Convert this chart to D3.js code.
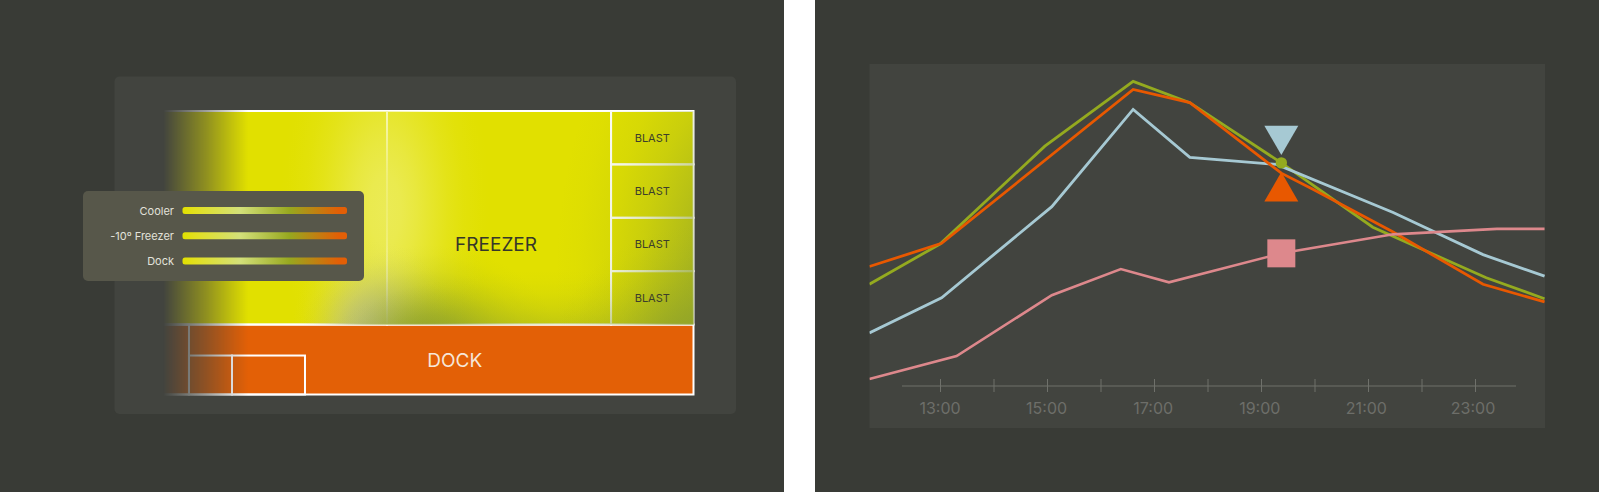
<!DOCTYPE html>
<html><head><meta charset="utf-8">
<script src="https://cdn.jsdelivr.net/npm/d3@7"></script>
<style>
html,body{margin:0;padding:0;background:#fff;overflow:hidden}
svg{display:block;font-family:Inter,"Noto Sans",sans-serif}
</style></head><body>
<svg id="c" width="1599" height="493"></svg>
<script>
// ---- data ----
const legendNames = ["Cooler", "-10º Freezer", "Dock"];
const legendStops = [0, 0.08, 0.35, 0.65, 0.95, 1];
const legendColors = ["#e1e000", "#e2e020", "#d3e07a", "#97a81f", "#e35f06", "#e35f06"];
const roomTree = {name:"site", children:[
  {name:"upper", children:[
    {name:"COOLER", value:48.15},
    {name:"FREEZER", value:47.94, label:"FREEZER"},
    {name:"blast", children:[
      {name:"b1", value:4.41, label:"BLAST"},
      {name:"b2", value:4.41, label:"BLAST"},
      {name:"b3", value:4.41, label:"BLAST"},
      {name:"b4", value:4.41, label:"BLAST"}]}]},
  {name:"DOCK", children:[
    {name:"d1", value:1.89},
    {name:"rest", children:[
      {name:"gap", value:15.66, hidden:true},
      {name:"row", children:[
        {name:"d2", value:1.68},
        {name:"d3", value:2.85},
        {name:"d4", value:15.17, hidden:true}]}]}]}
]};
const hourTicks = [13,14,15,16,17,18,19,20,21,22,23];
const hourLabels = [13,15,17,19,21,23];
const greenHours = [11.68,13,14.96,16.61,17.67,19.38,21.09,23.21,24.3];
const greenVals  = [31.6,44.1,74.5,94.6,88,69.3,49.3,33.6,27.1];
const orangeHours = [11.68,13.03,16.61,17.67,19.38,19.97,21.47,23.15,24.3];
const orangeVals  = [37.1,44.3,92.1,88,66.1,61.1,47.8,31.6,26.1];
const blueHours = [11.68,13.03,15.09,16.61,17.67,19.29,21.47,23.15,24.3];
const blueVals  = [16.5,27.4,55.7,85.9,71,68.8,53.9,40.8,34.1];
const pinkHours = [11.68,13.31,15.09,16.38,17.28,19.38,21.47,23.41,24.3];
const pinkVals  = [2.2,9.3,28.2,36.3,32.2,41.2,47.1,48.8,48.8];
const cursorHour = 19.38;

// ---- page ----
const svg = d3.select("#c");
const defs = svg.append("defs");
svg.append("rect").attr("width",784).attr("height",492).attr("fill","#393b36");
svg.append("rect").attr("x",815).attr("width",784).attr("height",492).attr("fill","#393b36");
svg.append("rect").attr("x",114.5).attr("y",76.5).attr("width",621.5).attr("height",337.5).attr("rx",5).attr("fill","#42443f");
svg.append("rect").attr("x",869.5).attr("y",64).attr("width",675.5).attr("height",364).attr("fill","#42443f");

// ---- treemap ----
const tmX0=162, tmX1=693.5, tmY0=111, tmY1=394.5;
const root = d3.hierarchy(roomTree).sum(d=>d.value||0);
const tile = (node,a,b,c,e)=> (node.depth%2 ? d3.treemapDice : d3.treemapSlice)(node,a,b,c,e);
d3.treemap().tile(tile).size([tmX1-tmX0,tmY1-tmY0]).round(false)(root);
const upper = root.children[0], dock = root.children[1];

const fade = defs.append("linearGradient").attr("id","fade").attr("gradientUnits","userSpaceOnUse")
  .attr("x1",163).attr("x2",248).attr("y1",0).attr("y2",0);
[[0,0],[.5,.48],[.85,.85],[1,1]].forEach(s=>fade.append("stop").attr("offset",s[0]).attr("stop-color","#fff").attr("stop-opacity",s[1]));
const mask = defs.append("mask").attr("id","fadeMask").attr("maskUnits","userSpaceOnUse")
  .attr("x",0).attr("y",0).attr("width",784).attr("height",493);
mask.append("rect").attr("x",163).attr("width",700).attr("height",493).attr("fill","url(#fade)");

const softStops = [[0,1],[.15,.93],[.3,.74],[.45,.5],[.6,.28],[.75,.12],[.9,.03],[1,0]];
function glow(id, col, peak){
  const g = defs.append("radialGradient").attr("id",id);
  softStops.forEach(s=>g.append("stop").attr("offset",s[0]).attr("stop-color",col).attr("stop-opacity",s[1]*peak));
}
glow("gOlive","#8fa22a",1);
glow("gOliveSoft","#8fa22a",.7);
glow("gPale","#ecec5e",.9);
glow("gGrey","#c8c8a0",.9);
defs.append("clipPath").attr("id","upperClip").append("rect")
  .attr("x",tmX0).attr("y",tmY0).attr("width",tmX1-tmX0).attr("height",upper.y1-upper.y0);

const tm = svg.append("g").attr("mask","url(#fadeMask)");
const heat = tm.append("g").attr("transform",`translate(${tmX0},${tmY0})`);
heat.append("rect").attr("x",upper.x0).attr("y",upper.y0).attr("width",upper.x1-upper.x0).attr("height",upper.y1-upper.y0).attr("fill","#e1e000");
const spots = tm.append("g").attr("clip-path","url(#upperClip)");
function spot(cx,cy,rx,ry,fill){spots.append("ellipse").attr("cx",cx).attr("cy",cy).attr("rx",rx).attr("ry",ry).attr("fill",`url(#${fill})`);}
spot(385,210,105,230,"gPale");
spot(372,330,80,90,"gGrey");
spot(428,345,130,100,"gOlive");
spot(545,365,240,95,"gOliveSoft");
spot(770,280,215,350,"gOlive");
spot(705,350,150,125,"gOlive");
heat.append("rect").attr("x",dock.x0).attr("y",dock.y0).attr("width",dock.x1-dock.x0).attr("height",dock.y1-dock.y0).attr("fill","#e36006");

const leaves = root.leaves().filter(d=>!d.data.hidden);
heat.selectAll("rect.cell").data(leaves).join("rect").attr("class","cell")
  .attr("x",d=>d.x0).attr("y",d=>d.y0).attr("width",d=>d.x1-d.x0).attr("height",d=>d.y1-d.y0)
  .attr("fill","none").attr("stroke","#fff").attr("stroke-width",2);
heat.append("rect").attr("x",dock.x0).attr("y",dock.y0).attr("width",dock.x1-dock.x0).attr("height",dock.y1-dock.y0)
  .attr("fill","none").attr("stroke","#fff").attr("stroke-width",2);

const labels = svg.append("g").attr("transform",`translate(${tmX0},${tmY0})`).attr("text-anchor","middle").attr("dominant-baseline","central");
labels.selectAll("text.blast").data(leaves.filter(d=>d.data.label==="BLAST")).join("text").attr("class","blast")
  .attr("x",d=>(d.x0+d.x1)/2).attr("y",d=>(d.y0+d.y1)/2).attr("font-size",11).attr("fill","#3c3e2c").text(d=>d.data.label);
const fz = leaves.find(d=>d.data.label==="FREEZER");
labels.append("text").attr("x",(fz.x0+fz.x1)/2-3).attr("y",(fz.y0+fz.y1)/2+27).attr("font-size",19).attr("fill","#35372a").text("FREEZER");
labels.append("text").attr("x",(dock.x0+dock.x1)/2+27).attr("y",(dock.y0+dock.y1)/2+1).attr("font-size",19).attr("fill","#f6e6d8").text("DOCK");

// ---- legend ----
const lg = svg.append("g");
lg.append("rect").attr("x",83).attr("y",191).attr("width",281).attr("height",90).attr("rx",5).attr("fill","#57574a");
const lgY = d3.scalePoint().domain(legendNames).range([210.5,261]);
const lgGrad = defs.append("linearGradient").attr("id","lgGrad");
legendStops.forEach((s,i)=>lgGrad.append("stop").attr("offset",s).attr("stop-color",legendColors[i]));
lg.selectAll("rect.bar").data(legendNames).join("rect").attr("class","bar")
  .attr("x",182.5).attr("y",d=>lgY(d)-3.5).attr("width",164.5).attr("height",7).attr("rx",2.5).attr("fill","url(#lgGrad)");
lg.selectAll("text").data(legendNames).join("text")
  .attr("x",174).attr("y",d=>lgY(d)).attr("text-anchor","end").attr("dominant-baseline","central")
  .attr("font-size",11).attr("fill","#e2e2da").text(d=>d);

// ---- line chart ----
const x = d3.scaleLinear().domain([13,23]).range([940,1475]);
const y = d3.scaleLinear().domain([0,100]).range([386,64]);
defs.append("clipPath").attr("id","plot").append("rect").attr("x",869.5).attr("y",64).attr("width",675.5).attr("height",364);
const axisG = svg.append("g").attr("transform","translate(0,386)");
axisG.call(d3.axisBottom(x).tickValues(hourTicks).tickFormat("").tickSize(6).tickSizeOuter(0));
axisG.select(".domain").remove();
axisG.selectAll(".tick line").attr("stroke","#6f716b").attr("stroke-width",1).attr("y1",-7).attr("y2",6);
axisG.insert("line",":first-child").attr("x1",902).attr("x2",1516).attr("stroke","#6f716b").attr("stroke-width",1);
svg.append("g").selectAll("text").data(hourLabels).join("text")
  .attr("x",d=>x(d)-(d-13)*.2).attr("y",414).attr("text-anchor","middle").attr("font-size",16)
  .attr("fill","#6d6e69").text(d=>d+":00");

const line = d3.line().x(d=>x(d[0])).y(d=>y(d[1]));
const plot = svg.append("g").attr("clip-path","url(#plot)").attr("fill","none").attr("stroke-linejoin","miter");
const series = [
  {h:greenHours,v:greenVals,c:"#94aa1f",w:2.8},
  {h:blueHours,v:blueVals,c:"#a6c9d3",w:2.8},
  {h:orangeHours,v:orangeVals,c:"#e85800",w:2.8},
  {h:pinkHours,v:pinkVals,c:"#dd888c",w:2.6}
];
series.forEach(s=>plot.append("path").datum(d3.zip(s.h,s.v)).attr("d",line).attr("stroke",s.c).attr("stroke-width",s.w));

const cx = x(cursorHour);
const tri = d3.symbol().type(d3.symbolTriangle).size(500);
const at = (h,v)=>v[h.indexOf(h.reduce((a,b)=>Math.abs(b-cursorHour)<Math.abs(a-cursorHour)?b:a))];
svg.append("path").attr("d",tri()).attr("transform",`translate(${cx},${y(at(blueHours,blueVals))-29}) rotate(180)`).attr("fill","#a6c9d3");
svg.append("path").attr("d",tri()).attr("transform",`translate(${cx},${y(at(orangeHours,orangeVals))+18.5})`).attr("fill","#e85800");
svg.append("circle").attr("cx",cx).attr("cy",y(at(greenHours,greenVals))).attr("r",5.7).attr("fill","#94aa1f");
svg.append("path").attr("d",d3.symbol().type(d3.symbolSquare).size(28*28)()).attr("transform",`translate(${cx},${y(at(pinkHours,pinkVals))})`).attr("fill","#dd888c");
</script>
</body></html>
